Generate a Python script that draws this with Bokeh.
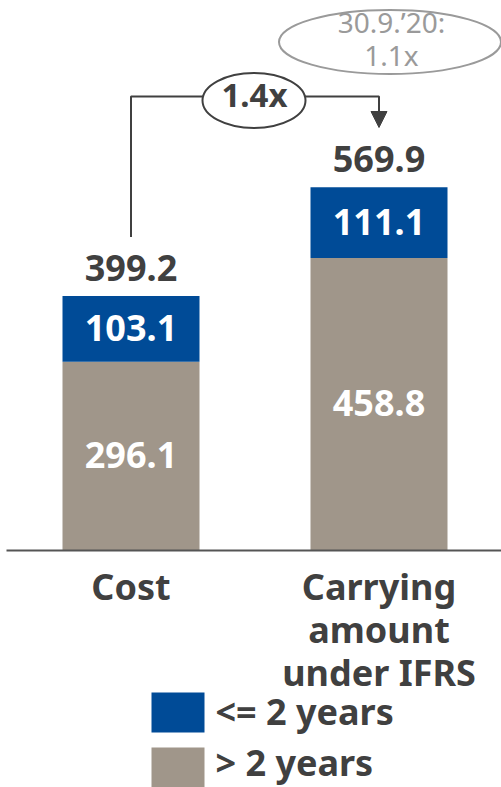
from bokeh.plotting import figure
from bokeh.models import ColumnDataSource, Range1d, Arrow, NormalHead
from bokeh.core.properties import value
from bokeh.embed import file_html
from bokeh.resources import INLINE

# ---- data ----
categories = ["Cost", "Carrying\namount\nunder IFRS"]
over_2_years = [296.1, 458.8]
upto_2_years = [103.1, 111.1]
totals = [399.2, 569.9]
series_names = ["<= 2 years", "> 2 years"]
multiple_label = "1.4x"
prior_label = ["30.9.\u201920:", "1.1x"]

BLUE = "#004b97"
TAUPE = "#a0968a"
DARK = "#404040"
LIGHT = "#9a9a9a"
FONT = "Noto Sans"

W, H = 501, 787
K = 0.6375          # px per data unit
ZERO_PX = 550       # pixel row of the baseline
XU = 248            # px per category step
X0_PX = 130.5       # pixel column of first category
TS = 14             # text baseline correction (px, upward)


def y_of(py):
    return (ZERO_PX - py) / K


def x_of(px):
    return (px - X0_PX) / XU


def ty_of(py):
    return y_of(py - TS)


xs = list(range(len(categories)))

p = figure(width=W, height=H, output_backend="svg", toolbar_location=None,
           x_range=Range1d(x_of(0), x_of(W)), y_range=Range1d(y_of(H), y_of(0)),
           x_axis_location=None, y_axis_location=None, min_border=0)
p.outline_line_color = None
p.grid.visible = False
p.background_fill_color = "white"
p.border_fill_color = "white"

src = ColumnDataSource(dict(x=xs, over=over_2_years, upto=upto_2_years))
p.vbar_stack(["over", "upto"], x="x", width=137 / XU, source=src,
             color=[TAUPE, BLUE], line_color=None)

# baseline
p.segment(x0=[x_of(6)], y0=[0], x1=[x_of(W)], y1=[0], line_color="#555555", line_width=2)

# segment labels
inner_x, inner_y, inner_t = [], [], []
for i, x in enumerate(xs):
    inner_x += [x, x]
    inner_y += [over_2_years[i] / 2 - (13 - TS) / K,
                over_2_years[i] + upto_2_years[i] / 2 - (13 - TS) / K]
    inner_t += [f"{over_2_years[i]:.1f}", f"{upto_2_years[i]:.1f}"]
p.text(x=inner_x, y=inner_y, text=inner_t, text_color="white", text_font=value(FONT),
       text_font_style="bold", text_font_size="36px", text_align="center",
       text_baseline="alphabetic")

# totals
p.text(x=xs, y=[t + (14 + TS) / K for t in totals], text=[f"{t:.1f}" for t in totals],
       text_color=DARK, text_font=value(FONT), text_font_style="bold",
       text_font_size="36px", text_align="center", text_baseline="alphabetic")

# category labels
cx, cy, ct = [], [], []
for i, cat in enumerate(categories):
    for j, line in enumerate(cat.split("\n")):
        cx.append(xs[i])
        cy.append(-(50 + 43 * j - TS) / K)
        ct.append(line)
p.text(x=cx, y=cy, text=ct, text_color=DARK, text_font=value(FONT),
       text_font_style="bold", text_font_size="36px", text_align="center",
       text_baseline="alphabetic")

# bracket with arrow
top_y = y_of(96)
p.line(x=[xs[0], xs[0], xs[1], xs[1]],
       y=[totals[0] + 59 / K, top_y, top_y, y_of(112)],
       line_color=DARK, line_width=2)
p.add_layout(Arrow(x_start=xs[1], y_start=y_of(110), x_end=xs[1], y_end=y_of(127),
                   line_color=DARK, line_width=2,
                   end=NormalHead(size=16, fill_color=DARK, line_color=DARK, line_width=1)))
p.ellipse(x=[x_of(253.5)], y=[y_of(100)], width=[103], height=[55],
          width_units="screen", height_units="screen",
          fill_color="white", line_color=DARK, line_width=2)
p.text(x=[x_of(254)], y=[ty_of(108)], text=[multiple_label], text_color=DARK,
       text_font=value(FONT), text_font_style="bold", text_font_size="33px",
       text_align="center", text_baseline="alphabetic")

# prior-period bubble
p.ellipse(x=[x_of(389.5)], y=[y_of(41.5)], width=[222], height=[64],
          width_units="screen", height_units="screen",
          fill_color="white", line_color=LIGHT, line_width=2)
p.text(x=[x_of(391)] * 2, y=[ty_of(35), ty_of(68)], text=prior_label, text_color=LIGHT,
       text_font=value(FONT), text_font_size="28px", text_align="center",
       text_baseline="alphabetic")

# legend
sw_colors = [BLUE, TAUPE]
p.rect(x=[x_of(177.5)] * 2, y=[y_of(712), y_of(767)], width=53, height=40,
       width_units="screen", height_units="screen", fill_color=sw_colors, line_color=None)
p.text(x=[x_of(215)] * 2, y=[ty_of(725), ty_of(776)], text=series_names, text_color=DARK,
       text_font=value(FONT), text_font_style="bold", text_font_size="36px",
       text_align="left", text_baseline="alphabetic")

open("out.html", "w").write(file_html(p, INLINE))
